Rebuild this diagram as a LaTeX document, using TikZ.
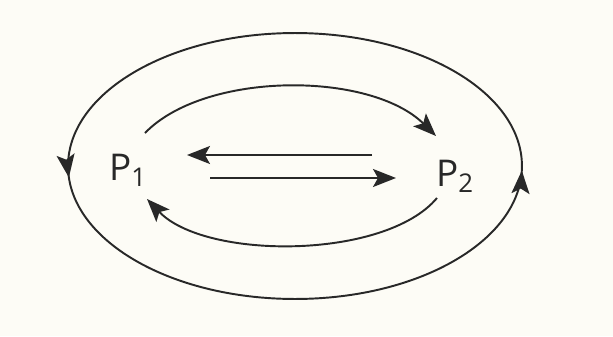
\documentclass[tikz,border=0pt]{standalone}
\usepackage{fontspec}
\setmainfont{Open Sans}
\usetikzlibrary{arrows.meta,decorations.markings}
\definecolor{paper}{RGB}{253,252,246}
\definecolor{ink}{RGB}{40,40,40}
\tikzset{bigtip/.tip={Stealth[length=0.46cm, width=0.36cm, inset=0.1cm]}}

\begin{document}
\begin{tikzpicture}[x=0.02cm, y=0.02cm,
  label/.style={inner sep=0pt, font=\fontsize{21}{25}\selectfont, text=ink},
  arrow/.style={-bigtip, line width=1.1pt, draw=ink},
  loop/.style={line width=1.1pt, draw=ink, postaction={decorate},
    decoration={markings,
      mark=at position 0.51 with {\arrow{bigtip}},
      mark=at position 0.996 with {\arrow{bigtip}}}}
]
\fill[paper] (0,0) rectangle (613,336);
\useasboundingbox (0,0) rectangle (613,336);

\node[label] (p1) at (128,166) {P\textsubscript{1}};
\node[label] (p2) at (455,160) {P\textsubscript{2}};

\coordinate (topstart) at (145,203);
\coordinate (topend) at (436,200);
\coordinate (botstart) at (437,138);
\coordinate (botend) at (147,137);
\coordinate (leftstart) at (372,181);
\coordinate (leftend) at (187,181);
\coordinate (rightstart) at (210,158);
\coordinate (rightend) at (396,158);

% outer loop
\draw[loop] (295,170) ellipse [x radius=4.54cm, y radius=2.66cm];

% inner arcs
\draw[arrow] (topstart) .. controls (205,265) and (370,265) .. (topend);
\draw[arrow] (botstart) .. controls (385,76) and (205,76) .. (botend);

% straight arrows
\draw[arrow] (leftstart) -- (leftend);
\draw[arrow] (rightstart) -- (rightend);
\end{tikzpicture}
\end{document}
